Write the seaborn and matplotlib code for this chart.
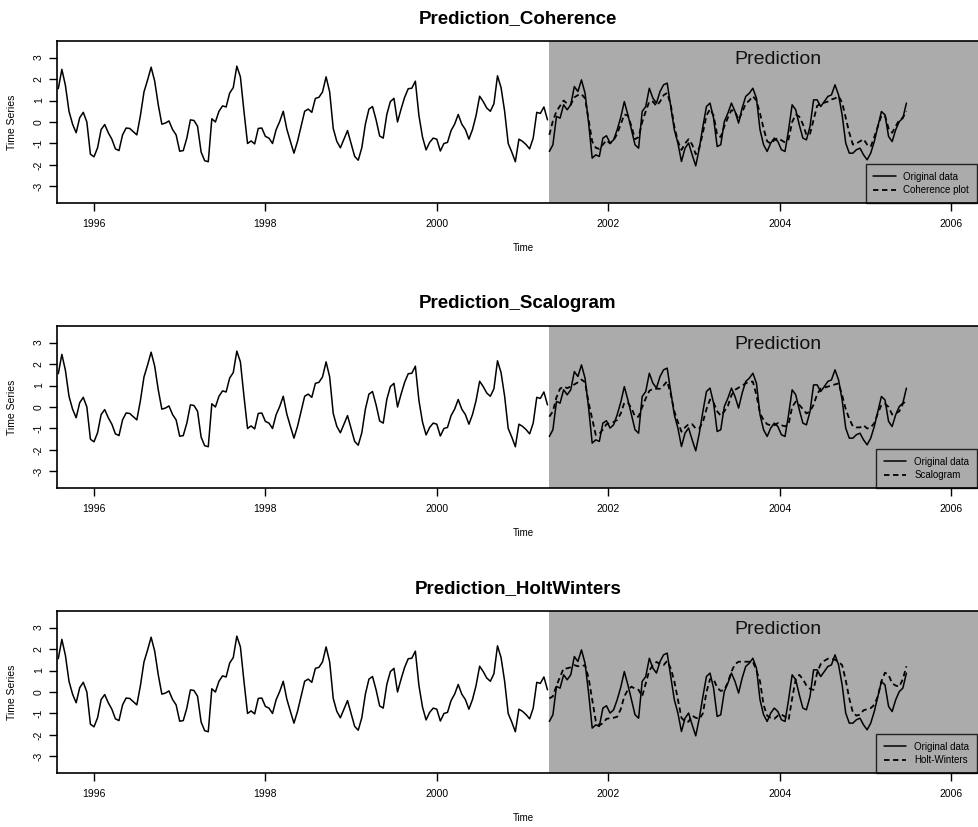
import matplotlib
matplotlib.use('Agg')
from matplotlib import pyplot as plt
import numpy as np
import pandas as pd
import seaborn as sns

# regular series: start time and points per year
OBS_START = 1995.583
PRED_START = 2001.313
FREQ = 24

# observed series before the prediction window
observed = [
    1.55, 2.45, 1.7, 0.5, -0.1, -0.5, 0.2, 0.45, 0.0, -1.5,
    -1.62, -1.2, -0.35, -0.12, -0.5, -0.8, -1.25, -1.33, -0.6, -0.28,
    -0.3, -0.45, -0.6, 0.3, 1.4, 1.95, 2.55, 1.9, 0.8, -0.1,
    -0.05, 0.05, -0.35, -0.6, -1.36, -1.33, -0.75, 0.1, 0.07, -0.2,
    -1.4, -1.8, -1.85, 0.15, 0.0, 0.5, 0.75, 0.7, 1.35, 1.6,
    2.6, 2.1, 0.5, -1.0, -0.88, -1.02, -0.3, -0.28, -0.67, -0.75,
    -1.0, -0.36, 0.02, 0.5, -0.33, -0.9, -1.45, -0.9, -0.2, 0.5,
    0.6, 0.45, 1.1, 1.15, 1.4, 2.1, 1.4, -0.3, -0.9, -1.2,
    -0.8, -0.4, -1.0, -1.6, -1.78, -1.2, -0.1, 0.6, 0.72, 0.1,
    -0.65, -0.75, 0.35, 0.95, 1.1, 0.0, 0.6, 1.15, 1.55, 1.57,
    1.9, 0.3, -0.7, -1.3, -0.95, -0.75, -0.8, -1.35, -1.0, -0.95,
    -0.4, -0.1, 0.35, -0.1, -0.35, -0.8, -0.35, 0.3, 1.2, 0.95,
    0.65, 0.5, 0.85, 2.15, 1.6, 0.5, -1.0, -1.4, -1.85, -0.8,
    -0.9, -1.05, -1.25, -0.75, 0.45, 0.4, 0.7, 0.1,
]

# original data inside the prediction window
original_pred = [
    -1.37, -1.06, 0.26, 0.18, 0.8, 0.57, 0.8, 1.65, 1.42, 1.96,
    1.34, -0.05, -1.68, -1.53, -1.6, -0.75, -0.64, -0.98, -0.83, -0.36,
    0.22, 0.95, 0.33, -0.36, -1.06, -1.22, 0.49, 0.72, 1.57, 1.11,
    0.88, 1.42, 1.73, 1.81, 0.72, -0.36, -0.98, -1.84, -1.22, -0.98,
    -1.53, -2.04, -1.22, -0.21, 0.72, 0.88, 0.18, -1.14, -1.06, 0.02,
    0.41, 0.88, 0.49, -0.05, 0.65, 1.19, 1.34, 1.57, 1.11, -0.36,
    -1.06, -1.37, -0.98, -0.75, -0.91, -1.29, -1.37, -0.36, 0.8, 0.57,
    -0.13, -0.75, -0.83, -0.21, 1.03, 1.03, 0.72, 0.95, 1.19, 1.26,
    1.73, 1.26, 0.33, -0.98, -1.45, -1.45, -1.29, -1.22, -1.53, -1.76,
    -1.45, -0.91, -0.21, 0.49, 0.33, -0.67, -0.91, -0.36, 0.02, 0.18,
    0.88,
]

coherence = [
    -0.6, 0.05, 0.5, 0.75, 1.0, 0.85, 0.8, 1.15, 1.25, 1.3,
    1.1, 0.1, -0.9, -1.2, -1.25, -1.05, -0.85, -1.0, -0.85, -0.55,
    -0.1, 0.35, 0.3, -0.2, -0.8, -0.7, 0.0, 0.5, 0.95, 0.95,
    0.75, 0.95, 1.25, 1.35, 0.8, -0.2, -0.9, -1.3, -1.0, -0.8,
    -1.05, -1.5, -1.2, -0.5, 0.3, 0.6, 0.3, -0.6, -0.7, -0.2,
    0.2, 0.55, 0.5, 0.1, 0.45, 0.85, 1.0, 1.2, 1.0, 0.4,
    -0.3, -0.9, -1.0, -0.85, -0.75, -0.85, -0.95, -0.8, 0.0, 0.35,
    0.25, -0.1, -0.6, -0.55, 0.1, 0.75, 0.85, 0.9, 0.95, 1.05,
    1.1, 1.2, 0.9, 0.2, -0.5, -1.05, -1.0, -0.9, -0.8, -1.05,
    -1.15, -0.7, -0.2, 0.3, 0.3, -0.3, -0.5, -0.2, 0.1, 0.2,
    0.5,
]

scalogram = [
    -0.45, -0.2, 0.45, 0.85, 0.95, 0.88, 0.95, 1.05, 1.15, 1.28,
    1.15, 0.2, -0.55, -1.3, -1.25, -1.05, -0.8, -0.75, -0.7, -0.6,
    -0.3, 0.2, 0.2, -0.05, -0.45, -0.45, 0.0, 0.4, 0.75, 0.85,
    0.85, 0.85, 1.0, 1.2, 0.6, -0.2, -0.7, -1.15, -0.95, -0.8,
    -0.8, -1.0, -1.0, -0.7, -0.1, 0.35, 0.2, -0.2, -0.4, -0.2,
    0.05, 0.55, 0.8, 0.9, 1.0, 1.1, 1.18, 1.18, 0.55, -0.3,
    -0.6, -0.8, -0.85, -0.85, -0.75, -0.85, -0.9, -0.8, 0.0, 0.25,
    0.1, -0.1, -0.3, -0.2, 0.1, 0.6, 0.85, 0.9, 0.95, 1.0,
    1.05, 1.1, 0.55, -0.1, -0.55, -0.9, -0.95, -0.95, -0.85, -1.0,
    -0.95, -0.75, -0.3, 0.1, 0.15, 0.0, -0.35, -0.3, -0.2, 0.15,
    0.3,
]

holtwinters = [
    -0.3, -0.2, 0.3, 0.7, 1.1, 1.1, 1.15, 1.25, 1.2, 1.2,
    1.25, 0.65, -0.35, -1.35, -1.55, -1.45, -1.25, -1.22, -1.2, -1.15,
    -0.8, -0.2, 0.1, 0.25, 0.15, 0.1, -0.2, 0.4, 1.0, 1.25,
    1.4, 1.3, 1.25, 1.45, 1.1, 0.5, -0.35, -1.2, -1.38, -1.38,
    -1.1, -1.2, -1.25, -1.0, 0.0, 0.6, 0.6, 0.2, 0.05, 0.1,
    0.45, 0.95, 1.3, 1.41, 1.41, 1.41, 1.41, 1.41, 1.0, 0.5,
    -0.6, -1.1, -1.2, -1.25, -1.1, -1.05, -1.15, -1.3, -0.3, 0.6,
    0.8, 0.6, 0.3, 0.15, 0.1, 0.9, 1.3, 1.45, 1.55, 1.55,
    1.5, 1.4, 1.25, 0.55, -0.3, -0.95, -1.1, -1.05, -0.85, -0.8,
    -0.75, -0.6, -0.2, 0.5, 0.9, 0.8, 0.4, 0.3, 0.25, 0.6,
    1.2,
]

panel_titles = ['Prediction_Coherence', 'Prediction_Scalogram', 'Prediction_HoltWinters']
legend_labels = ['Coherence plot', 'Scalogram', 'Holt-Winters']
predictions = [coherence, scalogram, holtwinters]
year_ticks = [1996, 1998, 2000, 2002, 2004, 2006]
y_ticks = [-3, -2, -1, 0, 1, 2, 3]
y_tick_labels = ['-3', '-2', '-1', '0', '1', '2', '3']

obs_df = pd.DataFrame({'time': OBS_START + np.arange(len(observed)) / FREQ,
                       'value': observed})
pred_time = PRED_START + np.arange(len(original_pred)) / FREQ

sns.set_style('ticks')
plt.rcParams['font.family'] = ['Liberation Sans', 'DejaVu Sans']
plt.rcParams['text.color'] = 'black'
plt.rcParams['axes.labelcolor'] = 'black'
plt.rcParams['xtick.color'] = 'black'
plt.rcParams['ytick.color'] = 'black'

W, H = 979, 827
fig = plt.figure(figsize=(W / 100, H / 100), dpi=100)

ax_left, ax_right = 57, 990
for k in range(3):
    top = 41 + 285 * k
    bottom = 203 + 285 * k
    ax = fig.add_axes([ax_left / W, 1 - bottom / H,
                       (ax_right - ax_left) / W, (bottom - top) / H])
    xmin, xmax = 1995.568, 2006.455
    ax.set_xlim(xmin, xmax)
    ax.set_ylim(-3.77, 3.77)

    ax.axvspan(PRED_START - 0.005, xmax, color='#ababab', lw=0, zorder=0)

    sns.lineplot(data=obs_df, x='time', y='value', ax=ax,
                 color='black', lw=1.1)
    pred_df = pd.DataFrame({'time': pred_time,
                            'original': original_pred,
                            'model': predictions[k]})
    sns.lineplot(data=pred_df, x='time', y='original', ax=ax,
                 color='black', lw=1.1, label='Original data')
    sns.lineplot(data=pred_df, x='time', y='model', ax=ax,
                 color='black', lw=1.3, linestyle=(0, (3, 2)),
                 label=legend_labels[k])

    ax.text(2003.98, 2.92, 'Prediction', ha='center', va='center',
            fontsize=14, color='#111111')

    # legend kept just inside the right edge of the picture
    leg = ax.legend(loc='lower right',
                    bbox_to_anchor=((977 - ax_left) / (ax_right - ax_left), 0),
                    borderaxespad=0, fancybox=False, edgecolor='black',
                    facecolor='none', fontsize=7, handlelength=2.3,
                    handletextpad=0.8, borderpad=0.8, labelspacing=0.35)
    leg.get_frame().set_linewidth(1.0)

    ax.set_xticks(year_ticks)
    ax.set_xticklabels([str(y) for y in year_ticks])
    ax.set_yticks(y_ticks)
    ax.set_yticklabels(y_tick_labels, rotation=90, va='center')
    ax.tick_params(axis='both', direction='out', length=5.5, width=1,
                   labelsize=7.5, color='black')
    ax.tick_params(axis='x', pad=6)
    ax.tick_params(axis='y', pad=4)
    for side in ax.spines.values():
        side.set_visible(True)
        side.set_linewidth(1.2)
        side.set_color('black')

    ax.set_xlabel('Time', fontsize=7, labelpad=10)
    ax.set_ylabel('Time Series', fontsize=7.5, labelpad=12)
    ax.set_title(panel_titles[k], fontsize=13.5, fontweight='bold',
                 pad=13, x=(518 - ax_left) / (ax_right - ax_left))

fig.savefig('out.png', dpi=100)
